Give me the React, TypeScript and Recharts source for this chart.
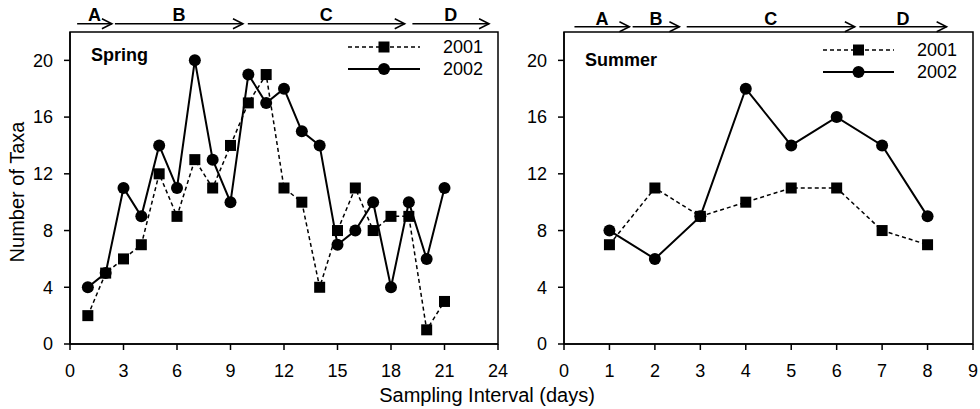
import React from "react";
import { LineChart, Line, XAxis, YAxis, ReferenceArea, ReferenceLine, Legend } from "recharts";

// Spring sampling (days 1-21)
const springDays = [1, 2, 3, 4, 5, 6, 7, 8, 9, 10, 11, 12, 13, 14, 15, 16, 17, 18, 19, 20, 21];
const spring2001 = [2, 5, 6, 7, 12, 9, 13, 11, 14, 17, 19, 11, 10, 4, 8, 11, 8, 9, 9, 1, 3];
const spring2002 = [4, 5, 11, 9, 14, 11, 20, 13, 10, 19, 17, 18, 15, 14, 7, 8, 10, 4, 10, 6, 11];

// Summer sampling (days 1-8)
const summerDays = [1, 2, 3, 4, 5, 6, 7, 8];
const summer2001 = [7, 11, 9, 10, 11, 11, 8, 7];
const summer2002 = [8, 6, 9, 18, 14, 16, 14, 9];

const springTicks = [0, 3, 6, 9, 12, 15, 18, 21, 24];
const summerTicks = [0, 1, 2, 3, 4, 5, 6, 7, 8, 9];
const taxaTicks = [0, 4, 8, 12, 16, 20];

// phase arrows above each panel (in day units)
const springPhases = [
  { label: "A", from: 0.4, to: 2.35 },
  { label: "B", from: 2.52, to: 9.7 },
  { label: "C", from: 9.97, to: 18.77 },
  { label: "D", from: 19.2, to: 23.5 },
];
const summerPhases = [
  { label: "A", from: 0.23, to: 1.44 },
  { label: "B", from: 1.51, to: 2.54 },
  { label: "C", from: 2.7, to: 6.4 },
  { label: "D", from: 6.5, to: 8.42 },
];

const series = [
  { key: "y2001", name: "2001", dash: "4 3", width: 1.5, marker: "square" },
  { key: "y2002", name: "2002", dash: undefined, width: 2, marker: "circle" },
];

const toRows = (days: number[], a: number[], b: number[]) =>
  days.map((d, i) => ({ day: d, y2001: a[i], y2002: b[i] }));

const springData = toRows(springDays, spring2001, spring2002);
const summerData = toRows(summerDays, summer2001, summer2002);

const SquareDot = (props: any) => {
  const { cx, cy, index } = props;
  if (cx == null || cy == null) return <g key={`s-${index}`} />;
  return <rect key={`s-${index}`} x={cx - 5.5} y={cy - 5.5} width={11} height={11} fill="#000" />;
};

const CircleDot = (props: any) => {
  const { cx, cy, index } = props;
  if (cx == null || cy == null) return <g key={`c-${index}`} />;
  return <circle key={`c-${index}`} cx={cx} cy={cy} r={6} fill="#000" />;
};

const arrowShape = (label: string, labelGap: number) => (p: any) => {
  const { x1, y1, x2, y2 } = p;
  return (
    <g>
      <line x1={x1} y1={y1} x2={x2} y2={y2} stroke="#000" strokeWidth={1.5} />
      <polyline
        points={`${x2 - 10},${y2 - 5} ${x2},${y2} ${x2 - 10},${y2 + 5}`}
        fill="none"
        stroke="#000"
        strokeWidth={1.5}
      />
      <text x={(x1 + x2) / 2} y={y1 - labelGap} textAnchor="middle" fontWeight="bold" fontSize={18} fill="#000">
        {label}
      </text>
    </g>
  );
};

const legendContent = (lineW: number, gap: number) => () => (
  <div style={{ fontSize: 18, color: "#000" }}>
    {series.map((s) => (
      <div key={s.key} style={{ display: "flex", alignItems: "center", height: 22 }}>
        <svg width={lineW} height={14}>
          <line x1={0} y1={7} x2={lineW} y2={7} stroke="#000" strokeWidth={s.width} strokeDasharray={s.dash} />
          {s.marker === "square" ? (
            <rect x={lineW / 2 - 5.5} y={1.5} width={11} height={11} fill="#000" />
          ) : (
            <circle cx={lineW / 2} cy={7} r={6} fill="#000" />
          )}
        </svg>
        <span style={{ marginLeft: gap }}>{s.name}</span>
      </div>
    ))}
  </div>
);

type PanelProps = {
  data: any[];
  width: number;
  yAxisWidth: number;
  rightMargin: number;
  xMax: number;
  xTicks: number[];
  phases: { label: string; from: number; to: number }[];
  arrowY: number;
  labelGap: number;
  legendPos: { top: number; left: number };
  legendLine: number;
  legendGap: number;
};

const Panel = (p: PanelProps) => (
  <LineChart
    width={p.width}
    height={409}
    data={p.data}
    margin={{ top: 32, right: p.rightMargin, bottom: 0, left: 0 }}
  >
    <XAxis
      dataKey="day"
      type="number"
      domain={[0, p.xMax]}
      ticks={p.xTicks}
      height={65}
      stroke="#000"
      strokeWidth={1.5}
      tickSize={6}
      tickMargin={14}
      tick={{ fill: "#000", fontSize: 18 }}
      interval={0}
    />
    <YAxis
      type="number"
      domain={[0, 22]}
      ticks={taxaTicks}
      width={p.yAxisWidth}
      stroke="#000"
      strokeWidth={1.5}
      tickSize={6}
      tickMargin={11}
      tick={{ fill: "#000", fontSize: 18 }}
      interval={0}
    />
    <ReferenceArea x1={0} x2={p.xMax} y1={0} y2={22} fill="none" stroke="#000" strokeWidth={1.5} />
    {p.phases.map((ph) => (
      <ReferenceLine
        key={ph.label}
        segment={[
          { x: ph.from, y: p.arrowY },
          { x: ph.to, y: p.arrowY },
        ]}
        ifOverflow="visible"
        shape={arrowShape(ph.label, p.labelGap)}
      />
    ))}
    <Line
      dataKey="y2001"
      name="2001"
      stroke="#000"
      strokeWidth={1.5}
      strokeDasharray="4 3"
      dot={SquareDot}
      activeDot={false}
      isAnimationActive={false}
    />
    <Line
      dataKey="y2002"
      name="2002"
      stroke="#000"
      strokeWidth={2}
      dot={CircleDot}
      activeDot={false}
      isAnimationActive={false}
    />
    <Legend
      layout="vertical"
      align="center"
      verticalAlign="middle"
      wrapperStyle={{ top: p.legendPos.top, left: p.legendPos.left, width: "auto" }}
      content={legendContent(p.legendLine, p.legendGap)}
    />
  </LineChart>
);

export default function App() {
  return (
    <div
      style={{
        position: "absolute",
        left: 0,
        top: 0,
        width: 980,
        height: 409,
        background: "#fff",
        fontFamily: "'Liberation Sans', Arial, sans-serif",
      }}
    >
      <div style={{ position: "absolute", left: 0, top: 0 }}>
        <Panel
          data={springData}
          width={510}
          yAxisWidth={70}
          rightMargin={12}
          xMax={24}
          xTicks={springTicks}
          phases={springPhases}
          arrowY={22.58}
          labelGap={3}
          legendPos={{ top: 36, left: 348 }}
          legendLine={72}
          legendGap={23}
        />
      </div>
      <div style={{ position: "absolute", left: 510, top: 0 }}>
        <Panel
          data={summerData}
          width={470}
          yAxisWidth={54}
          rightMargin={7}
          xMax={9}
          xTicks={summerTicks}
          phases={summerPhases}
          arrowY={22.37}
          labelGap={2}
          legendPos={{ top: 39, left: 313 }}
          legendLine={71}
          legendGap={23}
        />
      </div>
      <svg
        width={980}
        height={409}
        style={{ position: "absolute", left: 0, top: 0, pointerEvents: "none" }}
      >
        <text x={91} y={61} fontSize={18} fontWeight="bold" fill="#000">
          Spring
        </text>
        <text x={585} y={66} fontSize={18} fontWeight="bold" fill="#000">
          Summer
        </text>
        <text x={487} y={402} fontSize={20} textAnchor="middle" fill="#000">
          Sampling Interval (days)
        </text>
        <text
          x={24}
          y={192}
          fontSize={20}
          textAnchor="middle"
          fill="#000"
          transform="rotate(-90 24 192)"
        >
          Number of Taxa
        </text>
      </svg>
    </div>
  );
}
